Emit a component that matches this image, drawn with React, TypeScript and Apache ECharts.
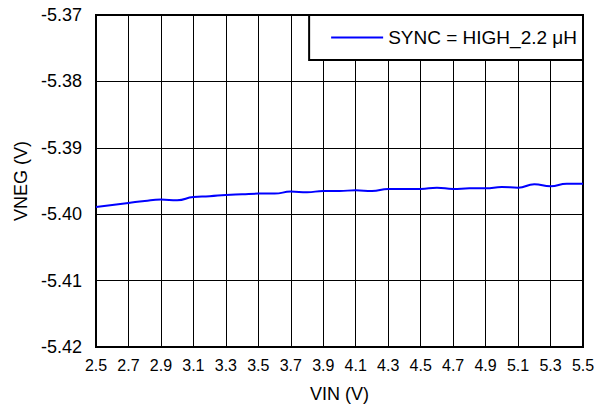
import React, { useEffect, useRef } from "react";
import * as echarts from "echarts";

const vin = [
  "2.5", "2.6", "2.7", "2.8", "2.9", "3.0", "3.1", "3.2", "3.3", "3.4", "3.5",
  "3.6", "3.7", "3.8", "3.9", "4.0", "4.1", "4.2", "4.3", "4.4", "4.5",
  "4.6", "4.7", "4.8", "4.9", "5.0", "5.1", "5.2", "5.3", "5.4", "5.5",
];
const vneg = [
  -5.3989, -5.3986, -5.3983, -5.398, -5.3978, -5.3979, -5.3974, -5.3973, -5.3971, -5.397, -5.3969,
  -5.3969, -5.3966, -5.3967, -5.3965, -5.3965, -5.3964, -5.3965, -5.3962, -5.3962, -5.3962,
  -5.396, -5.3962, -5.3961, -5.3961, -5.3959, -5.396, -5.3955, -5.3958, -5.3954, -5.3954,
];
const seriesName = "SYNC = HIGH_2.2 μH";
const xName = "VIN (V)";
const yName = "VNEG (V)";
const yMin = -5.42;
const yMax = -5.37;
const yStep = 0.01;

const FONT = "'Liberation Sans', Arial, Helvetica, sans-serif";

export default function App() {
  const ref = useRef<HTMLDivElement>(null);
  useEffect(() => {
    document.body.style.margin = "0";
    if (!ref.current) return;
    const chart = echarts.init(ref.current, null, { renderer: "svg" });
    chart.setOption({
      animation: false,
      backgroundColor: "#fff",
      textStyle: { fontFamily: FONT, color: "#000" },
      grid: {
        left: 96,
        right: 15,
        top: 15,
        bottom: 60,
        show: true,
        borderColor: "#000",
        borderWidth: 2,
        backgroundColor: "transparent",
        z: 3,
      },
      legend: {
        right: 15,
        top: 15,
        orient: "horizontal",
        backgroundColor: "#fff",
        borderColor: "#000",
        borderWidth: 2,
        borderRadius: 0,
        padding: [13, 6, 13, 22],
        itemWidth: 52,
        itemHeight: 14,
        itemGap: 5,
        textStyle: { fontFamily: FONT, fontSize: 19, color: "#000" },
        data: [{ name: seriesName, icon: "path://M0,6 L52,6 L52,8 L0,8 Z" }],
        z: 10,
      },
      xAxis: {
        type: "category",
        data: vin,
        boundaryGap: false,
        name: xName,
        nameLocation: "middle",
        nameGap: 38,
        nameTextStyle: { fontFamily: FONT, fontSize: 18, color: "#000" },
        axisLine: { show: false },
        axisTick: { show: false },
        axisLabel: {
          interval: 1,
          margin: 10,
          fontFamily: FONT,
          fontSize: 16,
          color: "#000",
        },
        splitLine: { show: true, interval: 1, lineStyle: { color: "#000", width: 1 } },
      },
      yAxis: {
        type: "value",
        min: yMin,
        max: yMax,
        interval: yStep,
        name: yName,
        nameLocation: "middle",
        nameRotate: 90,
        nameGap: 66,
        nameTextStyle: { fontFamily: FONT, fontSize: 18, color: "#000" },
        axisLine: { show: false },
        axisTick: { show: false },
        axisLabel: {
          margin: 14,
          fontFamily: FONT,
          fontSize: 18,
          color: "#000",
          formatter: (v: number) => v.toFixed(2),
        },
        splitLine: { show: true, lineStyle: { color: "#000", width: 1 } },
      },
      series: [
        {
          name: seriesName,
          type: "line",
          data: vneg,
          smooth: true,
          showSymbol: false,
          symbol: "none",
          lineStyle: { color: "#0000ff", width: 2 },
          itemStyle: { color: "#0000ff" },
          z: 5,
        },
      ],
    });
    return () => chart.dispose();
  }, []);
  return <div ref={ref} style={{ width: 598, height: 408 }} />;
}
